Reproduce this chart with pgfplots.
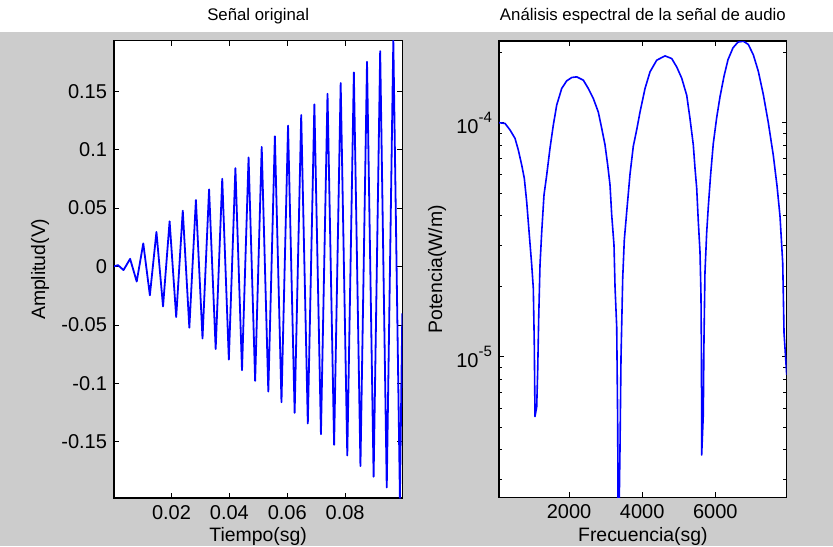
\documentclass[border=0pt]{standalone}
\usepackage{fontspec}
\setmainfont{Liberation Sans}
\usepackage{pgfplots}
\pgfplotsset{compat=1.18}
\definecolor{figgray}{RGB}{204,204,204}
\definecolor{lineblue}{RGB}{0,0,255}

\pgfplotsset{
  matlab/.style={
    scale only axis,
    axis background/.style={fill=white},
    tick align=inside,
    major tick length=2.6pt,
    minor tick length=1.7pt,
    tick style={black, line width=0.5pt},
    axis line style={black, line width=0.6pt},
    tick label style={font=\fontsize{10}{12}\selectfont, black},
    label style={font=\fontsize{9.7}{11}\selectfont},
    title style={font=\fontsize{8.4}{10}\selectfont, anchor=center},
    /pgf/number format/assume math mode=true,
    /pgf/number format/1000 sep={},
    scaled ticks=false,
  }
}

\begin{document}
\begin{tikzpicture}
\fill[white] (0,0) rectangle (416.5pt,273pt);
\fill[figgray] (0,0) rectangle (416.5pt,257pt);

% left: time signal
\begin{axis}[matlab,
  at={(57pt,24pt)}, anchor=south west,
  width=144.15pt, height=228.75pt,
  xmin=0.000125, xmax=0.09976,
  ymin=-0.1979, ymax=0.1933,
  xtick={0.02,0.04,0.06,0.08},
  ytick={-0.15,-0.1,-0.05,0,0.05,0.1,0.15},
  xticklabel style={/pgf/number format/fixed, /pgf/number format/precision=2},
  yticklabel style={/pgf/number format/fixed, /pgf/number format/precision=2},
  title={Señal original},
  title style={at={(axis description cs:0.5,1.0273)}},
  xlabel={Tiempo(sg)},
  xlabel style={at={(axis description cs:0.5,-0.0831)}, anchor=center},
  ylabel={Amplitud(V)},
  ylabel style={at={(axis description cs:-0.2567,0.5)}, anchor=center},
]
\addplot[lineblue, line width=0.9pt, line join=round] coordinates {
(0.000125,0.0002) (0.0015,0.0012) (0.00342,-0.0030) (0.00569,0.0066)
(0.00797,-0.0128) (0.01024,0.0198) (0.01252,-0.0245) (0.01479,0.0296)
(0.01707,-0.0341) (0.01934,0.0387) (0.02162,-0.0432) (0.02389,0.0478)
(0.02616,-0.0523) (0.02843,0.0569) (0.03071,-0.0614) (0.03298,0.0660)
(0.03526,-0.0705) (0.03753,0.0751) (0.03981,-0.0796) (0.04208,0.0842)
(0.04436,-0.0887) (0.04663,0.0933) (0.04890,-0.0978) (0.05117,0.1023)
(0.05345,-0.1069) (0.05572,0.1114) (0.05800,-0.1160) (0.06027,0.1205)
(0.06255,-0.1251) (0.06482,0.1296) (0.06710,-0.1342) (0.06937,0.1387)
(0.07164,-0.1433) (0.07391,0.1478) (0.07619,-0.1524) (0.07846,0.1569)
(0.08074,-0.1615) (0.08301,0.1660) (0.08529,-0.1706) (0.08756,0.1751)
(0.08984,-0.1797) (0.09211,0.1842) (0.09438,-0.1888) (0.09665,0.1933)
(0.09893,-0.1979) (0.09976,-0.0400)
};
\end{axis}

% right: power spectrum
\begin{axis}[matlab,
  at={(249.5pt,24.35pt)}, anchor=south west,
  width=143.85pt, height=228.15pt,
  ymode=log,
  xmin=86, xmax=7952,
  ymin=2.506e-6, ymax=2.234e-4,
  xtick={2000,4000,6000},
  ytick={1e-5,1e-4},
  yticklabels={{10\raisebox{0.55em}{\fontsize{7.5}{8}\selectfont -5}},
               {10\raisebox{0.55em}{\fontsize{7.5}{8}\selectfont -4}}},
  minor ytick={3e-6,4e-6,5e-6,6e-6,7e-6,8e-6,9e-6,
               2e-5,3e-5,4e-5,5e-5,6e-5,7e-5,8e-5,9e-5,2e-4},
  title={Análisis espectral de la señal de audio},
  title style={at={(axis description cs:0.5,1.0285)}},
  xlabel={Frecuencia(sg)},
  xlabel style={at={(axis description cs:0.5,-0.0848)}, anchor=center},
  ylabel={Potencia(W/m)},
  ylabel style={at={(axis description cs:-0.2155,0.5)}, anchor=center},
]
\addplot[lineblue, line width=0.8pt, line join=round] coordinates {
(86,1.000e-4) (250,9.93e-5) (387,9.31e-5) (524,8.57e-5) (614,7.64e-5)
(707,6.59e-5) (778,5.78e-5) (843,4.59e-5) (915,3.31e-5) (980,2.47e-5)
(1024,1.96e-5) (1051,1.12e-5) (1070,5.55e-6) (1117,6.11e-6) (1144,8.77e-6)
(1171,1.46e-5) (1207,2.47e-5) (1254,3.42e-5) (1316,4.91e-5) (1390,5.97e-5)
(1480,7.78e-5) (1571,9.77e-5) (1664,1.19e-4) (1800,1.40e-4) (1937,1.51e-4)
(2074,1.56e-4) (2210,1.57e-4) (2391,1.52e-4) (2528,1.40e-4) (2664,1.27e-4)
(2801,1.11e-4) (2894,9.46e-5) (2984,8.04e-5) (3058,6.59e-5) (3121,5.42e-5)
(3167,4.04e-5) (3230,3.00e-5) (3258,1.99e-5) (3304,1.34e-5) (3331,5.19e-6)
(3348,1.26e-6) (3394,4.06e-6) (3422,1.00e-5) (3468,2.16e-5) (3512,3.16e-5)
(3578,4.17e-5) (3668,6.03e-5) (3758,7.94e-5) (3851,9.33e-5) (3941,1.11e-4)
(4078,1.40e-4) (4215,1.65e-4) (4398,1.85e-4) (4625,1.93e-4) (4808,1.88e-4)
(4945,1.73e-4) (5081,1.55e-4) (5218,1.31e-4) (5308,1.04e-4) (5398,8.04e-5)
(5445,6.38e-5) (5491,5.25e-5) (5535,3.78e-5) (5581,2.81e-5) (5608,1.84e-5)
(5622,9.84e-6) (5627,3.80e-6) (5671,5.64e-6) (5690,1.18e-5) (5717,2.29e-5)
(5764,3.39e-5) (5808,4.37e-5) (5873,6.03e-5) (5944,8.13e-5) (6037,1.05e-4)
(6128,1.29e-4) (6238,1.58e-4) (6347,1.86e-4) (6484,2.09e-4) (6620,2.21e-4)
(6765,2.23e-4) (6902,2.16e-4) (7039,1.95e-4) (7175,1.66e-4) (7312,1.32e-4)
(7449,1.00e-4) (7586,7.24e-5) (7687,5.37e-5) (7769,3.98e-5) (7843,2.51e-5)
(7879,1.26e-5) (7952,8.36e-6)
};
\end{axis}
\pgfresetboundingbox
\path[use as bounding box] (0,0) rectangle (416.5pt,273pt);
\end{tikzpicture}
\end{document}
